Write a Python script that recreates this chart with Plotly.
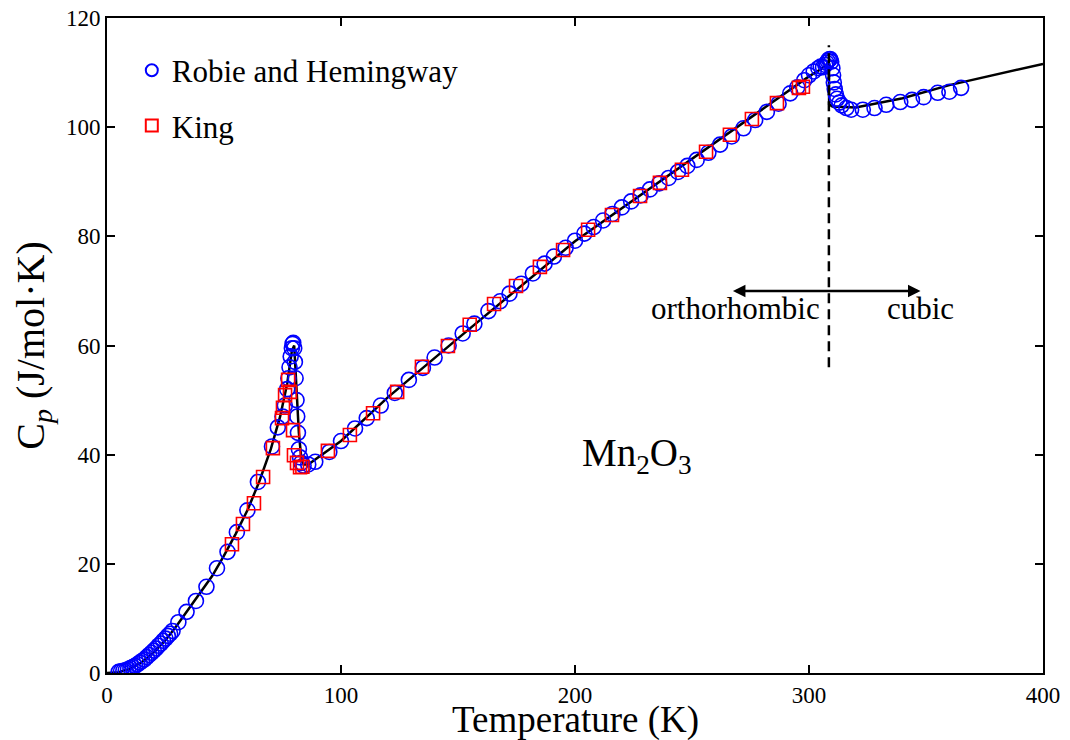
import plotly.graph_objects as go

# Robie and Hemingway (circles)
rh_T = [5, 6, 7, 8, 9, 10, 11, 12, 13, 14, 15, 16, 17, 18, 19, 20, 21, 22, 23, 24, 25, 26, 27, 28,
        30.5, 34, 38, 42.5, 47, 51.5, 55.5, 60, 64.5, 70.5, 73, 75, 76, 77, 77.5, 78, 78.5, 79, 79.3, 79.6,
        80, 80.3, 80.6, 81, 81.3, 81.6, 82, 82.5, 83, 84, 86,
        89, 95, 100, 106, 111, 117, 123, 129, 135, 140, 146, 152, 157, 163, 168, 172, 177, 182, 187, 191,
        196, 200, 204, 208, 212, 216, 220, 224, 228, 232, 236, 240, 244, 248, 252, 257, 262, 267, 272,
        277, 282, 287, 292, 295, 298, 300, 302, 304, 305, 306, 307, 307.5, 308, 308.5, 309, 309.5, 310,
        310.3, 310.6, 311, 311.5, 312, 313, 314, 316, 318, 323, 328, 333, 339, 344, 349, 355, 360, 365]
rh_Cp = [0.2, 0.3, 0.4, 0.5, 0.7, 0.9, 1.1, 1.3, 1.6, 1.9, 2.2, 2.5, 2.9, 3.3, 3.7, 4.1, 4.5, 5.0, 5.4, 5.9, 6.3, 6.8, 7.2, 7.7,
         9.3, 11.2, 13.2, 15.8, 19.2, 22.2, 25.8, 29.8, 35.0, 41.5, 45.0, 47.0, 49.0, 52.0, 54.0, 56.0, 58.0, 59.5, 60.3, 60.5,
         59.5, 57.0, 54.0, 50.0, 47.0, 44.0, 41.0, 39.5, 38.5, 38.0, 38.2,
         38.7, 40.5, 42.5, 44.8, 46.7, 49.0, 51.3, 53.7, 55.9, 57.8, 60.0, 62.2, 64.0, 66.3, 68.1, 69.5, 71.3, 73.2, 75.0, 76.3,
         77.9, 79.2, 80.5, 81.7, 82.9, 84.1, 85.3, 86.4, 87.5, 88.6, 89.7, 90.7, 91.8, 92.9, 94.0, 95.3, 96.8, 98.3, 99.8,
         101.3, 102.8, 104.3, 106.2, 107.3, 108.6, 109.5, 110.2, 110.8, 111.1, 111.0, 111.4, 111.8, 112.1, 112.4, 112.5, 112.0, 110.8,
         109.5, 108.2, 107.0, 106.0, 105.2, 104.5, 104.0, 103.5, 103.2, 103.2, 103.5, 104.1, 104.6, 105.0, 105.5, 106.3, 106.5, 107.2]

# King (squares)
king_T = [53.4, 58.1, 62.8, 66.7, 70.9, 74.8, 75.2, 76.1, 77.4, 78.2, 79.5, 79.9, 81.2, 82.5, 83.5,
          94.4, 103.8, 113.7, 124.0, 134.6, 145.7, 155.0, 165.4, 174.8, 185.0, 194.9, 205.6, 215.8,
          227.8, 236.3, 245.7, 256.0, 266.2, 275.6, 286.3, 295.7, 297.4]
king_Cp = [23.6, 27.3, 31.1, 35.9, 41.2, 46.7, 48.6, 50.9, 53.7, 51.5, 44.5, 39.9, 38.5, 37.7, 37.8,
           40.7, 43.6, 47.6, 51.5, 56.1, 59.9, 63.8, 67.6, 70.9, 74.4, 77.5, 81.2, 83.9,
           87.4, 89.8, 92.2, 95.5, 98.6, 101.5, 104.4, 107.2, 107.4]

# Model curve (black line)
fit_T = [0, 5, 10, 15, 20, 25, 30, 35, 40, 45, 50, 55, 60, 65, 70, 74, 77, 79, 80, 81, 82, 83, 84, 86, 90,
         100, 120, 150, 200, 250, 300, 305, 308, 308.5, 308.6, 310, 320, 340, 360, 380, 400]
fit_Cp = [0, 0.15, 0.8, 2.0, 3.8, 6.0, 8.8, 11.8, 14.6, 17.8, 21.5, 25.5, 29.8, 35.0, 41.0, 47.0, 53.0, 59.0, 60.0, 52.0,
          44.0, 39.5, 38.2, 38.2, 39.4, 42.5, 50.5, 61.3, 79.1, 94.2, 109.3, 110.6, 111.6, 111.8, 104.2, 103.8,
          103.6, 105.3, 107.7, 109.7, 111.6]

x_ticks = [0, 100, 200, 300, 400]
y_ticks = [0, 20, 40, 60, 80, 100, 120]

FONT = "Liberation Serif"

fig = go.Figure()
fig.add_trace(go.Scatter(x=fit_T, y=fit_Cp, mode="lines", line=dict(color="black", width=2.5),
                         showlegend=False, hoverinfo="skip"))
fig.add_trace(go.Scatter(x=rh_T, y=rh_Cp, mode="markers", name="Robie and Hemingway", legendgroup="a",
                         marker=dict(symbol="circle-open", size=15, color="#0000ff", line=dict(width=1.6, color="#0000ff"))))
fig.add_trace(go.Scatter(x=king_T, y=king_Cp, mode="markers", name="King", legendgroup="b",
                         marker=dict(symbol="square-open", size=13, color="#ff0000", line=dict(width=1.6, color="#ff0000"))))

# transition dashed line
fig.add_shape(type="line", x0=308.5, x1=308.5, y0=56, y1=115,
              line=dict(color="black", width=2.5, dash="10px,6px"))
# double arrow
fig.add_annotation(x=267.5, y=70, ax=348.3, ay=70, xref="x", yref="y", axref="x", ayref="y",
                   showarrow=True, arrowhead=2, arrowsize=1, arrowwidth=2.5, arrowside="end+start",
                   arrowcolor="black", text="")
fig.add_annotation(x=305.5, y=66.8, text="orthorhombic", showarrow=False, xanchor="right",
                   font=dict(family=FONT, size=31, color="black"))
fig.add_annotation(x=347.7, y=66.8, text="cubic", showarrow=False, xanchor="center",
                   font=dict(family=FONT, size=31, color="black"))
fig.add_annotation(x=226.5, y=39.8, text="Mn<sub>2</sub>O<sub>3</sub>", showarrow=False,
                   font=dict(family=FONT, size=39, color="black"))
# x-axis title
fig.add_annotation(x=0.5, y=-0.071, xref="paper", yref="paper", text="Temperature (K)", showarrow=False,
                   xanchor="center", yanchor="middle", font=dict(family=FONT, size=37, color="black"))

axis_common = dict(showline=True, linecolor="black", linewidth=2, mirror="ticks", ticks="inside",
                   ticklen=8, tickwidth=1.5, tickcolor="black", showgrid=False, zeroline=False,
                   automargin=False, ticklabeloverflow="allow",
                   tickfont=dict(family=FONT, size=23, color="black"))
fig.update_xaxes(range=[0, 400], tickvals=x_ticks, **axis_common)
fig.update_yaxes(range=[0, 120], tickvals=y_ticks, title=dict(text="C<sub><i>p</i></sub> (J/mol·K)", standoff=10,
                 font=dict(family=FONT, size=40, color="black")), **axis_common)

# page body adds an 8px offset; margins compensate so the plot area matches the reference
fig.update_layout(width=1070, height=740, margin=dict(l=99, r=35, t=10, b=75, autoexpand=False),
                  paper_bgcolor="white", plot_bgcolor="white",
                  legend=dict(x=0.0265, y=0.961, xanchor="left", yanchor="top", bgcolor="rgba(0,0,0,0)",
                              font=dict(family=FONT, size=31, color="black"), tracegroupgap=12,
                              itemsizing="constant"))

fig.write_html("out.html")
